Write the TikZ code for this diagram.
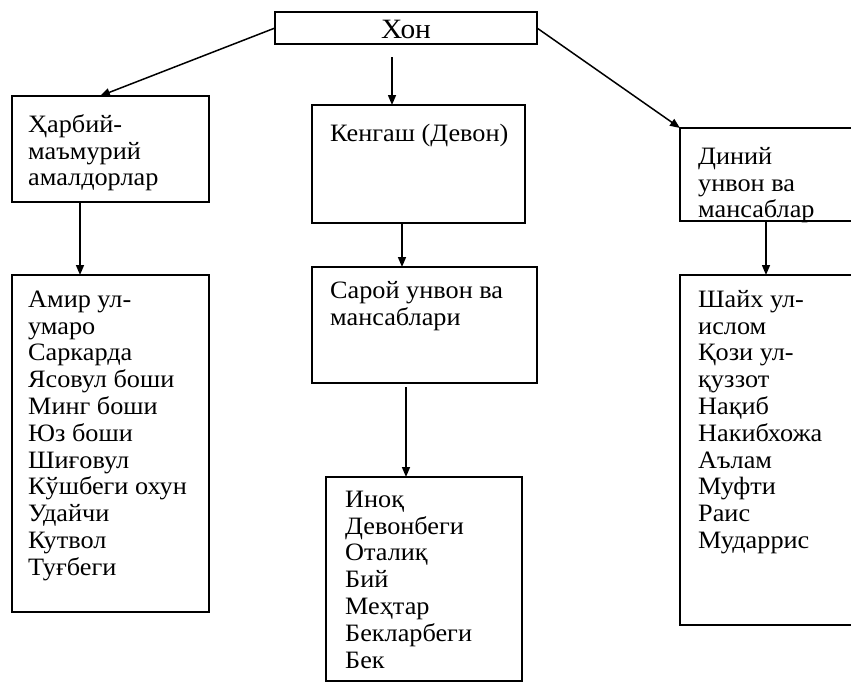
\documentclass[tikz,border=0pt]{standalone}
\usepackage{fontspec}
\setmainfont[FakeStretch=1.05]{Liberation Serif}
\usetikzlibrary{arrows.meta}
\newcommand{\firststrut}{\rule{0pt}{20pt}}
\begin{document}
\begin{tikzpicture}[x=1pt,y=-1pt,
  box/.style={draw,line width=1.5pt,inner sep=0pt,outer sep=0pt,anchor=north west},
  txt/.style={anchor=north west,align=left,inner sep=0pt,font=\fontsize{25pt}{26.8pt}\selectfont},
  arr/.style={line width=1.5pt,-{Triangle[length=10pt,width=8pt]}}]
\useasboundingbox (0,0) rectangle (851,688);
% boxes
\node[box,minimum width=262pt,minimum height=32pt] (khon) at (275,12) {};
\node[font=\fontsize{28pt}{30pt}\selectfont,inner sep=0pt,anchor=base] (khont) at (406,38) {Хон};
\node[box,minimum width=197pt,minimum height=106pt] (harb) at (12,96) {};
\node[txt] (harbt) at (28,112) {\firststrut Ҳарбий-\\маъмурий\\амалдорлар};
\node[box,minimum width=213pt,minimum height=118pt] (keng) at (312,105) {};
\node[txt] (kengt) at (330,121) {\firststrut Кенгаш (Девон)};
\node[box,minimum width=190pt,minimum height=93pt] (din) at (680,128) {};
\node[txt] (dint) at (698,144) {\firststrut Диний\\унвон ва\\мансаблар};
\node[box,minimum width=197pt,minimum height=337pt] (harbl) at (12,275) {};
\node[txt] (harblt) at (28,287) {\firststrut Амир ул-\\умаро\\Саркарда\\Ясовул боши\\Минг боши\\Юз боши\\Шиғовул\\Кўшбеги охун\\Удайчи\\Кутвол\\Туғбеги};
\node[box,minimum width=225pt,minimum height=116pt] (saroy) at (312,267) {};
\node[txt] (saroyt) at (330,278) {\firststrut Сарой унвон ва\\мансаблари};
\node[box,minimum width=196pt,minimum height=204pt] (saroyl) at (326,477) {};
\node[txt] (saroylt) at (345,487) {\firststrut Иноқ\\Девонбеги\\Оталиқ\\Бий\\Меҳтар\\Бекларбеги\\Бек};
\node[box,minimum width=190pt,minimum height=350pt] (dinl) at (680,275) {};
\node[txt] (dinlt) at (698,287) {\firststrut Шайх ул-\\ислом\\Қози ул-\\қуззот\\Нақиб\\Накибхожа\\Аълам\\Муфти\\Раис\\Мударрис};
% connectors
\coordinate (c1) at (392,57);
\draw[arr] (khon.west) -- (harb.north west -| 100,0);
\draw[arr] (c1) -- (c1 |- keng.north);
\draw[arr] (khon.east) -- (din.north west);
\draw[arr] (harb.south west -| 80,0) -- (harbl.north west -| 80,0);
\draw[arr] (keng.south west -| 402,0) -- (saroy.north west -| 402,0);
\coordinate (c2) at (406,387);
\draw[arr] (c2) -- (c2 |- saroyl.north);
\draw[arr] (din.south west -| 766,0) -- (dinl.north west -| 766,0);
\end{tikzpicture}
\end{document}
